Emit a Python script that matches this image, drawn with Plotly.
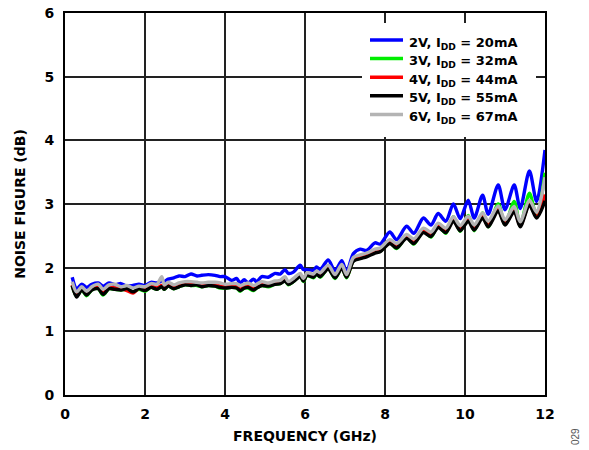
import plotly.graph_objects as go

# ---------------- data ----------------
freq_ghz = [0.18, 0.29, 0.42, 0.54, 0.67, 0.83, 0.95, 1.1, 1.25, 1.4,
            1.55, 1.7, 1.85, 2.0, 2.15, 2.3, 2.42, 2.48, 2.58, 2.72,
            2.85, 3.0, 3.15, 3.3, 3.42, 3.58, 3.75, 3.88, 4.0, 4.17,
            4.29, 4.38, 4.48, 4.58, 4.71, 4.79, 4.92, 5.08, 5.25, 5.38,
            5.5, 5.58, 5.71, 5.88, 5.96, 6.05, 6.21, 6.29, 6.38, 6.58,
            6.75, 6.92, 7.04, 7.21, 7.38, 7.54, 7.75, 7.88, 8.12, 8.29,
            8.54, 8.72, 8.96, 9.15, 9.33, 9.52, 9.71, 9.88, 10.08, 10.23,
            10.44, 10.58, 10.83, 11.0, 11.23, 11.38, 11.61, 11.79, 12.0]

nf_2v = [1.85, 1.67, 1.74, 1.69, 1.74, 1.76, 1.71, 1.76, 1.73, 1.75,
         1.71, 1.72, 1.74, 1.72, 1.77, 1.76, 1.79, 1.78, 1.82, 1.84,
         1.87, 1.86, 1.90, 1.87, 1.88, 1.89, 1.88, 1.86, 1.86, 1.80,
         1.83, 1.76, 1.81, 1.76, 1.82, 1.78, 1.86, 1.85, 1.91, 1.90,
         1.97, 1.91, 1.93, 2.04, 1.97, 1.97, 1.96, 2.01, 1.97, 2.12,
         1.95, 2.11, 1.93, 2.22, 2.29, 2.27, 2.39, 2.37, 2.56, 2.44,
         2.65, 2.54, 2.78, 2.67, 2.85, 2.73, 3.00, 2.77, 3.06, 2.78,
         3.14, 2.84, 3.30, 2.91, 3.30, 2.93, 3.52, 3.04, 3.85]

nf_3v = [1.71, 1.55, 1.65, 1.56, 1.65, 1.67, 1.57, 1.67, 1.66, 1.65,
         1.66, 1.62, 1.66, 1.63, 1.69, 1.66, 1.70, 1.66, 1.71, 1.67,
         1.70, 1.73, 1.72, 1.72, 1.70, 1.72, 1.71, 1.68, 1.68, 1.69,
         1.68, 1.63, 1.68, 1.68, 1.64, 1.68, 1.72, 1.70, 1.74, 1.75,
         1.80, 1.73, 1.78, 1.87, 1.78, 1.88, 1.84, 1.90, 1.85, 1.99,
         1.83, 2.00, 1.84, 2.11, 2.15, 2.18, 2.25, 2.26, 2.40, 2.30,
         2.48, 2.37, 2.58, 2.48, 2.66, 2.54, 2.80, 2.57, 2.82, 2.58,
         2.86, 2.64, 3.00, 2.68, 3.04, 2.66, 3.17, 2.80, 3.49]

nf_4v = [1.73, 1.56, 1.67, 1.59, 1.67, 1.69, 1.60, 1.69, 1.68, 1.67,
         1.64, 1.60, 1.68, 1.66, 1.71, 1.68, 1.72, 1.68, 1.73, 1.69,
         1.72, 1.75, 1.74, 1.74, 1.72, 1.74, 1.73, 1.71, 1.70, 1.71,
         1.70, 1.66, 1.70, 1.71, 1.67, 1.70, 1.74, 1.73, 1.76, 1.77,
         1.81, 1.76, 1.80, 1.88, 1.81, 1.89, 1.87, 1.92, 1.88, 2.00,
         1.86, 2.01, 1.86, 2.12, 2.16, 2.19, 2.25, 2.27, 2.40, 2.33,
         2.48, 2.40, 2.57, 2.51, 2.65, 2.57, 2.75, 2.60, 2.75, 2.61,
         2.80, 2.66, 2.91, 2.69, 2.90, 2.66, 3.00, 2.80, 3.15]

nf_5v = [1.72, 1.54, 1.65, 1.57, 1.65, 1.67, 1.58, 1.67, 1.66, 1.65,
         1.67, 1.62, 1.67, 1.64, 1.69, 1.66, 1.70, 1.66, 1.71, 1.67,
         1.70, 1.73, 1.72, 1.73, 1.70, 1.72, 1.71, 1.69, 1.68, 1.69,
         1.68, 1.64, 1.68, 1.69, 1.65, 1.68, 1.72, 1.71, 1.74, 1.75,
         1.79, 1.74, 1.78, 1.86, 1.79, 1.88, 1.85, 1.90, 1.86, 1.98,
         1.84, 1.99, 1.85, 2.10, 2.14, 2.17, 2.23, 2.25, 2.38, 2.31,
         2.46, 2.38, 2.55, 2.49, 2.63, 2.55, 2.73, 2.58, 2.73, 2.59,
         2.78, 2.64, 2.89, 2.67, 2.88, 2.64, 2.98, 2.78, 3.05]

nf_6v = [1.78, 1.62, 1.70, 1.63, 1.70, 1.74, 1.66, 1.73, 1.74, 1.70,
         1.72, 1.68, 1.71, 1.70, 1.75, 1.74, 1.86, 1.73, 1.77, 1.73,
         1.76, 1.78, 1.78, 1.77, 1.76, 1.77, 1.77, 1.76, 1.74, 1.75,
         1.75, 1.72, 1.74, 1.76, 1.72, 1.74, 1.78, 1.76, 1.79, 1.80,
         1.86, 1.78, 1.83, 1.91, 1.83, 1.92, 1.90, 1.95, 1.92, 2.04,
         1.89, 2.05, 1.89, 2.16, 2.20, 2.23, 2.29, 2.31, 2.44, 2.38,
         2.52, 2.45, 2.62, 2.56, 2.70, 2.62, 2.80, 2.66, 2.81, 2.67,
         2.86, 2.73, 2.97, 2.75, 2.96, 2.72, 3.06, 2.87, 3.42]

series_labels = ["2V, I<sub>DD</sub> = 20mA", "3V, I<sub>DD</sub> = 32mA",
                 "4V, I<sub>DD</sub> = 44mA", "5V, I<sub>DD</sub> = 55mA",
                 "6V, I<sub>DD</sub> = 67mA"]
series_values = [nf_2v, nf_3v, nf_4v, nf_5v, nf_6v]
series_colors = ["#0000FF", "#00EE00", "#FF0000", "#000000", "#B4B4B4"]

x_ticks = [0, 2, 4, 6, 8, 10, 12]
y_ticks = [0, 1, 2, 3, 4, 5, 6]

# ---------------- figure ----------------
FONT = "DejaVu Sans"
fig = go.Figure()
for label, vals, col in zip(series_labels, series_values, series_colors):
    fig.add_trace(go.Scatter(
        x=freq_ghz, y=vals, mode="lines", name=label,
        line=dict(color=col, width=3.4, shape="spline", smoothing=0.8),
        showlegend=False))

# manual legend (white box covering grid, line samples and labels)
L, R, T, B = 65, 545, 13, 395
def px_x(p): return (p - L) / (R - L)
def px_y(p): return (B - p) / (B - T)

shapes = [dict(type="rect", xref="paper", yref="paper",
               x0=px_x(362), x1=px_x(536), y0=px_y(137), y1=px_y(23),
               fillcolor="white", line=dict(width=0), layer="above")]
annotations = []
row_y = [40, 58.6, 77.2, 95.8, 114.4]
for label, col, ry in zip(series_labels, series_colors, row_y):
    shapes.append(dict(type="line", xref="paper", yref="paper",
                       x0=px_x(370), x1=px_x(403), y0=px_y(ry), y1=px_y(ry),
                       line=dict(color=col, width=3.5), layer="above"))
    annotations.append(dict(xref="paper", yref="paper", x=px_x(407), y=px_y(ry + 3),
                            text=f"<b>{label}</b>", showarrow=False,
                            xanchor="left", yanchor="middle",
                            font=dict(family=FONT, size=13, color="black")))

annotations.append(dict(xref="paper", yref="paper", x=px_x(575), y=px_y(437),
                        text="029", showarrow=False, textangle=-90,
                        xanchor="center", yanchor="middle",
                        font=dict(family="Liberation Sans", size=10, color="#555555")))

axis_common = dict(showgrid=True, gridcolor="#222222", gridwidth=1.5,
                   showline=True, linecolor="black", linewidth=2, mirror=True,
                   zeroline=False, ticks="", automargin=False,
                   tickfont=dict(family=FONT, size=14, color="black"))

fig.update_layout(
    width=589, height=450,
    margin=dict(l=L, r=589 - R, t=T, b=450 - B, autoexpand=False),
    paper_bgcolor="white", plot_bgcolor="white",
    xaxis=dict(range=[0, 12], tickvals=x_ticks, ticktext=[f"<b>{t}</b>" for t in x_ticks],
               ticklabelstandoff=5,
               title=dict(text="<b>FREQUENCY (GHz)</b>", standoff=10,
                          font=dict(family=FONT, size=14, color="black")),
               **axis_common),
    yaxis=dict(range=[0, 6], tickvals=y_ticks, ticktext=[f"<b>{t}</b>" for t in y_ticks],
               ticklabelstandoff=6,
               title=dict(text="<b>NOISE FIGURE (dB)</b>", standoff=16,
                          font=dict(family=FONT, size=14, color="black")),
               **axis_common),
    shapes=shapes, annotations=annotations,
)

fig.write_html("out.html", config={"displayModeBar": False},
               post_script="document.body.style.margin='0';document.body.style.overflow='hidden';")
